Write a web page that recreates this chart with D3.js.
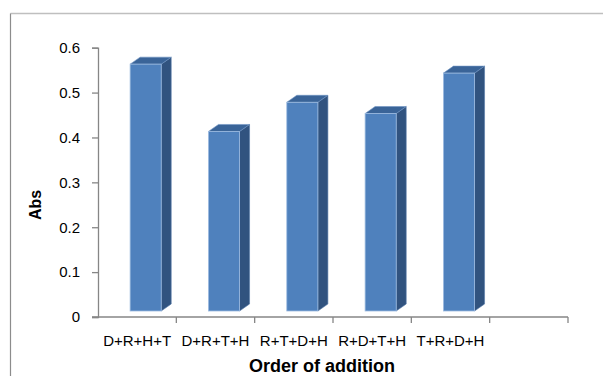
<!DOCTYPE html>
<html>
<head>
<meta charset="utf-8">
<script src="https://cdn.jsdelivr.net/npm/d3@7"></script>
<style>
  html, body { margin: 0; padding: 0; background: #fff; }
  svg { display: block; }
  text { font-family: "Liberation Sans", Arial, sans-serif; fill: #000; }
</style>
</head>
<body>
<svg id="chart" width="603" height="376"></svg>
<script>
// Order in which reagents were added, and the absorbance measured for each
const categories = ["D+R+H+T", "D+R+T+H", "R+T+D+H", "R+D+T+H", "T+R+D+H", ""];
const absValues = [0.55, 0.40, 0.465, 0.44, 0.53];
const yTickValues = [0, 0.1, 0.2, 0.3, 0.4, 0.5, 0.6];
const yTitle = "Abs";
const xTitle = "Order of addition";

const svg = d3.select("#chart");
const W = 603, H = 376;

// chart area border (top and left edges visible)
svg.append("line").attr("x1", 10.5).attr("x2", W).attr("y1", 13.5).attr("y2", 13.5)
  .attr("stroke", "#bfbfbf").attr("stroke-width", 1.5);
svg.append("line").attr("x1", 10.5).attr("x2", 10.5).attr("y1", 13.5).attr("y2", H)
  .attr("stroke", "#8c8c8c").attr("stroke-width", 1.2);

const x = d3.scaleBand().domain(categories).range([98, 568]).paddingInner(0).paddingOuter(0);
const y = d3.scaleLinear().domain([0, 0.6]).range([317, 47.7]);

// 3D depth of the columns
const depthX = 10, depthY = 7;
const floorLift = 6;            // columns stand slightly behind the axis plane
const frontOffset = 0.41;       // front face start within band
const frontWidth = 0.397;       // front face width as fraction of band

const axisColor = "#868686";

// value axis
const yAxis = d3.axisLeft(y).tickValues(yTickValues).tickSize(6).tickPadding(12)
  .tickFormat(d => d === 0 ? "0" : d3.format(".1f")(d));
const gy = svg.append("g").attr("transform", "translate(98,0)").call(yAxis);
gy.select(".domain").attr("stroke", axisColor).attr("stroke-width", 1.3);
gy.selectAll(".tick line").attr("stroke", axisColor).attr("stroke-width", 1.3);
gy.selectAll(".tick text").style("font-size", "15px").attr("fill", "#000");

// category axis: line, ticks at category boundaries, labels centered
const gx = svg.append("g");
gx.append("line").attr("x1", 92).attr("x2", x.range()[1]).attr("y1", y(0)).attr("y2", y(0))
  .attr("stroke", axisColor).attr("stroke-width", 1.3);
const boundaries = categories.map(c => x(c)).concat([x.range()[1]]);
gx.selectAll("line.tk").data(boundaries.slice(1)).join("line").attr("class", "tk")
  .attr("x1", d => d).attr("x2", d => d).attr("y1", y(0)).attr("y2", y(0) + 6)
  .attr("stroke", axisColor).attr("stroke-width", 1.3);
gx.selectAll("text.lbl").data(categories).join("text").attr("class", "lbl")
  .attr("x", d => x(d) + x.bandwidth() / 2).attr("y", 346)
  .attr("text-anchor", "middle").style("font-size", "15px").text(d => d);

// columns
const bw = x.bandwidth();
const bars = svg.append("g").selectAll("g").data(absValues).join("g");
bars.each(function (v, i) {
  const g = d3.select(this);
  const x0 = x(categories[i]) + bw * frontOffset;
  const x1 = x0 + bw * frontWidth;
  const yb = y(0) - floorLift;
  const yt = y(v) - floorLift;
  // side face
  g.append("path")
    .attr("d", `M${x1},${yt} L${x1 + depthX},${yt - depthY} L${x1 + depthX},${yb - depthY} L${x1},${yb} Z`)
    .attr("fill", "#31537f").attr("stroke", "#5479a8").attr("stroke-width", 0.6);
  // top face
  g.append("path")
    .attr("d", `M${x0},${yt} L${x0 + depthX},${yt - depthY} L${x1 + depthX},${yt - depthY} L${x1},${yt} Z`)
    .attr("fill", "#3a6498").attr("stroke", "#6f93c2").attr("stroke-width", 0.6);
  // front face
  g.append("rect").attr("x", x0).attr("y", yt).attr("width", x1 - x0).attr("height", yb - yt)
    .attr("fill", "#4f81bd").attr("stroke", "#9dbbe0").attr("stroke-width", 0.8);
});

// axis titles
svg.append("text").attr("transform", "translate(41,205) rotate(-90)")
  .attr("text-anchor", "middle").style("font-size", "16px").style("font-weight", "bold").text(yTitle);
svg.append("text").attr("x", 322).attr("y", 372)
  .attr("text-anchor", "middle").style("font-size", "18px").style("font-weight", "bold").text(xTitle);
</script>
</body>
</html>
